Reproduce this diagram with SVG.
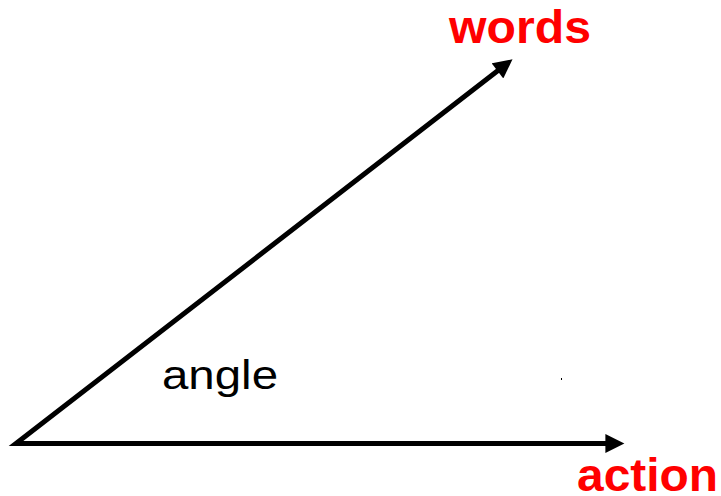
<svg xmlns="http://www.w3.org/2000/svg" width="721" height="496" viewBox="0 0 721 496">
  <style>
    .lbl { font-family: "Liberation Sans", Arial, sans-serif; font-weight: bold; font-size: 46px; fill: #ff0000; }
    .ang { font-family: "Liberation Sans", Arial, sans-serif; font-size: 40px; fill: #000000; }
    .edge { fill: none; stroke: #000000; stroke-width: 5; stroke-linejoin: miter; stroke-miterlimit: 10; }
  </style>
  <defs>
    <marker id="arrow" viewBox="0 0 20 20" refX="8" refY="10" markerWidth="20" markerHeight="19" markerUnits="userSpaceOnUse" orient="auto-start-reverse">
      <path d="M0,0 L20,10 L0,20 Z" fill="#000000"/>
    </marker>
  </defs>
  <rect width="721" height="496" fill="#ffffff"/>
  <g id="connectors">
    <path class="edge" d="M503.5,66.3 L16,443.5 L613,443.5" marker-start="url(#arrow)" marker-end="url(#arrow)"/>
  </g>
  <g id="words">
    <text class="lbl" x="449" y="43" textLength="142" lengthAdjust="spacingAndGlyphs">words</text>
  </g>
  <g id="action">
    <text class="lbl" x="577" y="491" textLength="141" lengthAdjust="spacingAndGlyphs">action</text>
  </g>
  <g id="angle">
    <text class="ang" x="162" y="389" textLength="116" lengthAdjust="spacingAndGlyphs">angle</text>
  </g>
  <rect x="561" y="378" width="1" height="2" fill="#000000"/>
</svg>
